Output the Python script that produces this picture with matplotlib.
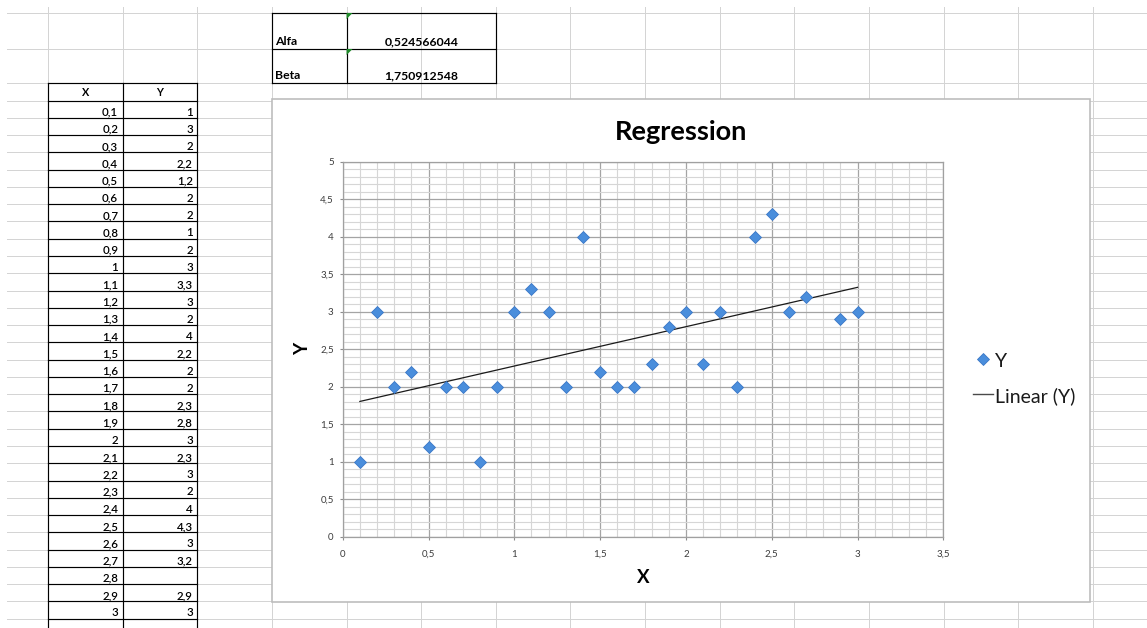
import matplotlib
matplotlib.use("Agg")
import matplotlib.pyplot as plt
from matplotlib.ticker import MultipleLocator, FuncFormatter
from matplotlib.patches import Rectangle, Polygon
import numpy as np

# ---------------- data ----------------
x_values = [0.1, 0.2, 0.3, 0.4, 0.5, 0.6, 0.7, 0.8, 0.9, 1.0,
            1.1, 1.2, 1.3, 1.4, 1.5, 1.6, 1.7, 1.8, 1.9, 2.0,
            2.1, 2.2, 2.3, 2.4, 2.5, 2.6, 2.7, 2.8, 2.9, 3.0]
y_values = [1, 3, 2, 2.2, 1.2, 2, 2, 1, 2, 3,
            3.3, 3, 2, 4, 2.2, 2, 2, 2.3, 2.8, 3,
            2.3, 3, 2, 4, 4.3, 3, 3.2, None, 2.9, 3]
param_names = ["Alfa", "Beta"]
alfa = 0.524566044
beta = 1.750912548
param_values = [alfa, beta]
chart_title = "Regression"
x_label = "X"
y_label = "Y"
legend_labels = ["Y", "Linear (Y)"]
table_headers = ["X", "Y"]

def fmt(v):
    return f"{v:g}".replace(".", ",")

def fmt_param(v):
    return f"{v:.9f}".replace(".", ",")

# ---------------- figure ----------------
W, H = 1147, 628
plt.rcParams["font.family"] = ["Lato", "DejaVu Sans"]
fig = plt.figure(figsize=(W / 100, H / 100), dpi=100)
fig.patch.set_facecolor("white")

bg = fig.add_axes([0, 0, 1, 1])
bg.set_xlim(0, W)
bg.set_ylim(H, 0)
bg.axis("off")

PX = 0.72  # 1 px in points

# spreadsheet grid
col_w = 74.64
cols = [48 + i * col_w for i in range(-1, 16)]
rh = 17.27
row_top = 83.3
rows = [13, 49] + [row_top + k * rh for k in range(0, 33)]
grid_c = "#d4d4d4"
for c in cols:
    if 0 < c < W:
        bg.plot([c, c], [7, H], color=grid_c, lw=PX, zorder=1)
for r in rows:
    if r < H:
        bg.plot([7, W], [r, r], color=grid_c, lw=PX, zorder=1)

# data table
tl, tm, tr = cols[1], cols[2], cols[3]
n = len(x_values)
for k in range(n + 2):
    yy = row_top + k * rh
    bg.plot([tl, tr], [yy, yy], color="black", lw=0.85, zorder=3)
for c in (tl, tm, tr):
    bg.plot([c, c], [row_top, H], color="black", lw=0.85, zorder=3)
for j, hdr in enumerate(table_headers):
    cx = (tl + tm) / 2 if j == 0 else (tm + tr) / 2
    bg.text(cx, row_top + rh - 4.2, hdr, ha="center", va="baseline",
            fontsize=7.8, fontweight="bold", zorder=4)
for i, (xv, yv) in enumerate(zip(x_values, y_values)):
    yb = row_top + (i + 2) * rh - 2.3
    bg.text(tm - 4.5, yb, fmt(xv), ha="right", va="baseline", fontsize=8.3,
            fontweight="semibold", zorder=4)
    if yv is not None:
        bg.text(tr - 4.5, yb, fmt(yv), ha="right", va="baseline", fontsize=8.3,
                fontweight="semibold", zorder=4)

# parameter table
pl, pm, pr = cols[4], cols[5], cols[7]
for yy in (13, 49, row_top):
    bg.plot([pl, pr], [yy, yy], color="black", lw=0.85, zorder=3)
for c in (pl, pm, pr):
    bg.plot([c, c], [13, row_top], color="black", lw=0.85, zorder=3)
for i, (nm, val) in enumerate(zip(param_names, param_values)):
    top = 13 if i == 0 else 49
    bot = 49 if i == 0 else row_top
    bg.text(pl + 3, bot - 4, nm, ha="left", va="baseline", fontsize=8.8,
            fontweight="bold", zorder=4)
    bg.text((pm + pr) / 2, bot - 4, fmt_param(val), ha="center", va="baseline",
            fontsize=8.8, fontweight="bold", zorder=4)
    bg.add_patch(Polygon([(pm, top), (pm + 6, top), (pm, top + 6)], closed=True,
                         facecolor="#1f8a2a", edgecolor="none", zorder=5))

# chart box
bg.add_patch(Rectangle((272, 99), 818, 503, facecolor="white", edgecolor="#bdbdbd",
                       lw=1.2, zorder=6))
bg.text(681, 140, chart_title, ha="center", va="baseline", fontsize=19.5,
        fontweight="bold", color="black", zorder=7)
bg.text(303, 349, y_label, rotation=90, ha="center", va="center", fontsize=13.5,
        fontweight="bold", zorder=7)
bg.text(643.5, 582.7, x_label, ha="center", va="baseline", fontsize=13.5,
        fontweight="bold", zorder=7)

# legend (manual)
mfc, mec = "#4a8edc", "#3a77c6"
bg.plot([983], [358.5], marker="D", ms=5.8, mfc=mfc, mec=mec, mew=0.6,
        linestyle="none", zorder=7)
bg.text(995, 366.7, legend_labels[0], ha="left", va="baseline", fontsize=14,
        color="#1a1a1a", zorder=7)
bg.plot([972.7, 993], [394, 394], color="#4a4a4a", lw=1.0, zorder=7)
bg.text(995, 401.7, legend_labels[1], ha="left", va="baseline", fontsize=14,
        color="#1a1a1a", zorder=7)

# plot area
L, T, R, B = 342.7, 161.7, 943.3, 536.7
ax = fig.add_axes([L / W, (H - B) / H, (R - L) / W, (B - T) / H])
ax.set_zorder(10)
ax.set_facecolor("white")
ax.set_xlim(0, 3.5)
ax.set_ylim(0, 5)
for a in (ax.xaxis, ax.yaxis):
    a.set_major_locator(MultipleLocator(0.5))
    a.set_minor_locator(MultipleLocator(0.1))
    a.set_major_formatter(FuncFormatter(lambda v, p: fmt(round(v, 3))))
ax.grid(which="minor", color="#d6d6d6", lw=0.8)
ax.grid(which="major", color="#a4a4a4", lw=0.9)
ax.set_axisbelow(True)
ax.tick_params(which="minor", length=0)
ax.tick_params(which="major", length=2.3, width=0.8, color="#8c8c8c",
               labelsize=7.0, labelcolor="#3c3c3c", direction="out")
ax.tick_params(axis="y", pad=4.2)
ax.tick_params(axis="x", pad=7.0)
for s in ax.spines.values():
    s.set_color("#a0a0a0")
    s.set_linewidth(0.9)

xs = [xv for xv, yv in zip(x_values, y_values) if yv is not None]
ys = [yv for yv in y_values if yv is not None]
ax.plot(xs, ys, linestyle="none", marker="D", ms=5.8, mfc=mfc, mec=mec, mew=0.6,
        zorder=4, clip_on=False, label=legend_labels[0])
xt = np.array([min(xs), max(xs)])
ax.plot(xt, alfa * xt + beta, color="#1a1a1a", lw=0.9, zorder=3,
        label=legend_labels[1])

fig.savefig("out.png", dpi=100, facecolor="white")
